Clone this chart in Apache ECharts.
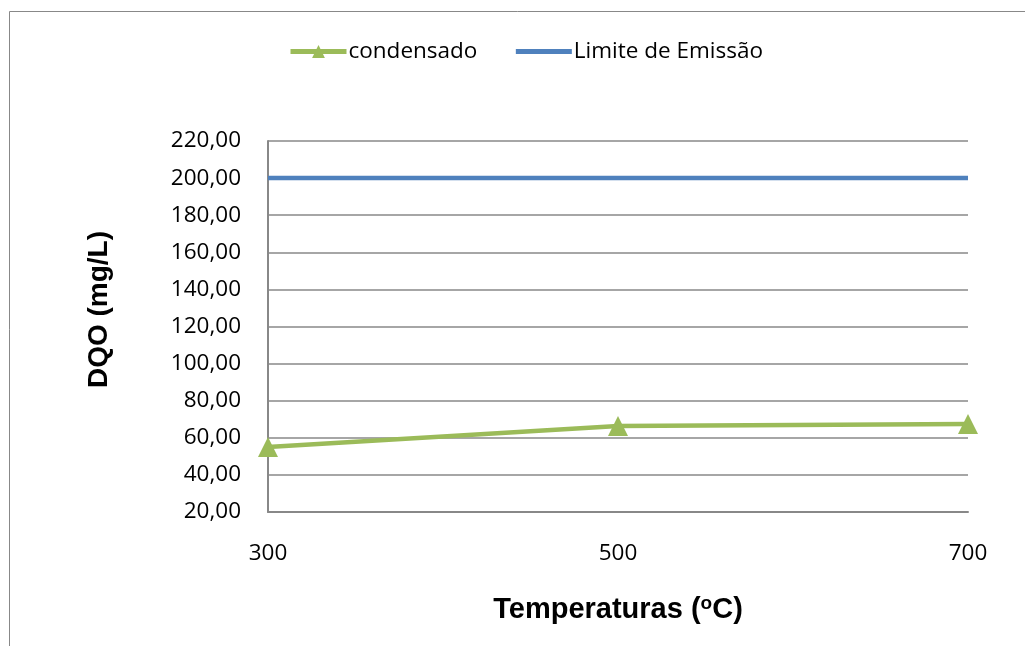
<!DOCTYPE html>
<html>
<head>
<meta charset="utf-8">
<script src="https://cdn.jsdelivr.net/npm/echarts@6/dist/echarts.min.js"></script>
<style>
  html, body { margin: 0; padding: 0; background: #fff; }
  #main { width: 1025px; height: 646px; }
</style>
</head>
<body>
<div id="main"></div>
<script>
  // dados do gráfico
  var temperaturas = ['300', '500', '700'];
  var condensado = [55, 66.3, 67.4];
  var limiteEmissao = [200, 200, 200];

  var chart = echarts.init(document.getElementById('main'));
  chart.setOption({
    animation: false,
    backgroundColor: '#fff',
    // moldura da área do gráfico
    graphic: [{
      type: 'rect',
      shape: { x: 9.5, y: 11.5, width: 1100, height: 700 },
      style: { fill: 'none', stroke: '#888', lineWidth: 1 }
    }],
    legend: {
      top: 35,
      left: 283,
      itemGap: 36,
      itemWidth: 56,
      itemHeight: 16,
      textStyle: { fontFamily: 'Open Sans', fontSize: 22.5, color: '#000', padding: [0, 0, 0, -3] },
      data: [
        { name: 'condensado', lineStyle: { width: 5 } },
        { name: 'Limite de Emissão', lineStyle: { width: 5 }, itemStyle: { color: 'rgba(0,0,0,0)', opacity: 0 } }
      ]
    },
    grid: { left: 268, right: 57, top: 141, bottom: 134 },
    xAxis: {
      type: 'category',
      boundaryGap: false,
      data: temperaturas,
      axisLine: { lineStyle: { color: '#888', width: 2 } },
      axisTick: { show: false },
      axisLabel: { fontFamily: 'Open Sans', fontSize: 22.5, color: '#000', margin: 30 },
      name: 'Temperaturas ({sup|o}C)',
      nameLocation: 'middle',
      nameGap: 82,
      nameTextStyle: {
        fontFamily: 'Liberation Sans', fontWeight: 'bold', fontSize: 29, color: '#000',
        rich: {
          sup: { fontFamily: 'Liberation Sans', fontWeight: 'bold', fontSize: 19, color: '#000', verticalAlign: 'top', padding: [0, 0, 12, 0] }
        }
      }
    },
    yAxis: {
      type: 'value',
      min: 20,
      max: 220,
      interval: 20,
      axisLine: { show: true, lineStyle: { color: '#888', width: 2 } },
      axisTick: { show: false },
      splitLine: { lineStyle: { color: '#888', width: 1.5 } },
      axisLabel: {
        fontFamily: 'Open Sans', fontSize: 22.5, color: '#000', margin: 27,
        formatter: function (v) { return v.toFixed(2).replace('.', ','); }
      },
      name: 'DQO (mg/L)',
      nameLocation: 'middle',
      nameGap: 155,
      nameTextStyle: { fontFamily: 'Liberation Sans', fontWeight: 'bold', fontSize: 28, color: '#000', padding: [0, 0, 0, 34] }
    },
    series: [
      {
        name: 'condensado',
        type: 'line',
        data: condensado,
        symbol: 'triangle',
        symbolSize: 20,
        lineStyle: { color: '#9BBB59', width: 4.5 },
        itemStyle: { color: '#9BBB59' }
      },
      {
        name: 'Limite de Emissão',
        type: 'line',
        data: limiteEmissao,
        symbol: 'none',
        lineStyle: { color: '#4F81BD', width: 4.5 },
        itemStyle: { color: '#4F81BD' }
      }
    ]
  });
</script>
</body>
</html>
